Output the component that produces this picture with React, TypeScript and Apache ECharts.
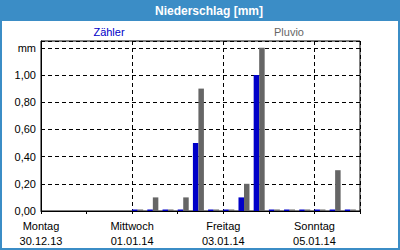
import React, { useEffect, useRef } from "react";
import * as echarts from "echarts";

const TITLE = "Niederschlag [mm]";
const SERIES_NAMES = ["Zähler", "Pluvio"];
const Y_UNIT = "mm";
// Day-boundary labels (every second day), at hours since Mon 30.12.13 00:00
const LABEL_HOURS = [0, 48, 96, 144];
const DAY_NAMES = ["Montag", "Mittwoch", "Freitag", "Sonntag"];
const DAY_DATES = ["30.12.13", "01.01.14", "03.01.14", "05.01.14"];
// 8-hour periods (start hour since Mon 30.12.13 00:00)
const PERIOD_HOURS = [48, 56, 64, 72, 80, 88, 96, 104, 112, 120, 128, 136, 144, 152, 160];
const ZAEHLER = [0, 0, 0, 0, 0.5, 0, 0, 0.1, 1.0, 0, 0, 0, 0, 0, 0];
const PLUVIO = [0, 0.1, 0, 0.1, 0.9, 0, 0, 0.2, 1.2, 0, 0, 0, 0, 0.3, 0];

const FONT = "'Liberation Sans', Arial, sans-serif";
const FRAME = "#3b8dc6";
const BLUE = "#0000c8";
const GRAY = "#666666";
const BAR_SHIFT_H = 2.9; // place the bar pair at the start of its period

export default function App() {
  const ref = useRef<HTMLDivElement>(null);
  useEffect(() => {
    if (!ref.current) return;
    const chart = echarts.init(ref.current, null, { renderer: "svg" });
    const dash = [4, 3];
    const labelFor = (v: number) => {
      const i = LABEL_HOURS.indexOf(Math.round(v));
      return i >= 0 ? DAY_NAMES[i] + "\n" + DAY_DATES[i] : "";
    };
    chart.setOption({
      animation: false,
      backgroundColor: "#ffffff",
      textStyle: { fontFamily: FONT },
      graphic: [
        { type: "rect", shape: { x: 0, y: 0, width: 400, height: 21 }, style: { fill: FRAME }, silent: true },
        { type: "rect", shape: { x: 1, y: 1, width: 398, height: 248 }, style: { fill: "none", stroke: FRAME, lineWidth: 2 }, silent: true },
        { type: "text", x: 209, y: 11, style: { text: TITLE, fill: "#ffffff", font: `bold 12px ${FONT}`, textAlign: "center", textVerticalAlign: "middle" } },
        { type: "text", x: 109, y: 32, style: { text: SERIES_NAMES[0], fill: BLUE, font: `11px ${FONT}`, textAlign: "center", textVerticalAlign: "middle" } },
        { type: "text", x: 289, y: 32, style: { text: SERIES_NAMES[1], fill: GRAY, font: `11px ${FONT}`, textAlign: "center", textVerticalAlign: "middle" } },
      ],
      grid: { left: 41, top: 41, width: 319, height: 170, show: true, borderColor: "#000", borderWidth: 1, backgroundColor: "transparent" },
      xAxis: [
        {
          type: "value", position: "bottom", min: 0, max: 168, interval: 24,
          axisLine: { show: true, lineStyle: { color: "#000", width: 1 } },
          axisTick: { show: true, length: 3, lineStyle: { color: "#000" } },
          axisLabel: { show: false },
          splitLine: { show: false },
        },
        {
          type: "value", position: "bottom", min: 0, max: 168, interval: 48,
          axisLine: { show: false },
          axisTick: { show: false },
          axisLabel: { show: true, formatter: labelFor, color: "#000", fontSize: 11, fontFamily: FONT, lineHeight: 15, margin: 7, showMaxLabel: false },
          splitLine: { show: true, lineStyle: { color: "#000", type: dash, width: 1 } },
        },
      ],
      yAxis: {
        type: "value", min: 0, max: 1.25, interval: 0.2,
        axisLine: { show: true, lineStyle: { color: "#000" } },
        axisTick: { show: false },
        axisLabel: {
          color: "#000", fontSize: 11, fontFamily: FONT, margin: 5,
          formatter: (v: number) => (Math.abs(v - 1.2) < 1e-6 ? Y_UNIT : v > 1.21 ? "" : v.toFixed(2).replace(".", ",")),
        },
        splitLine: { show: true, lineStyle: { color: "#000", type: dash, width: 1 } },
      },
      series: [
        {
          name: SERIES_NAMES[0], type: "bar", xAxisIndex: 0, barWidth: 5.5, barGap: "0%", barMinHeight: 1.5,
          itemStyle: { color: BLUE },
          data: PERIOD_HOURS.map((h, i) => [h + BAR_SHIFT_H, ZAEHLER[i]]),
        },
        {
          name: SERIES_NAMES[1], type: "bar", xAxisIndex: 0, barWidth: 5.5, barGap: "0%", barMinHeight: 1.5,
          itemStyle: { color: GRAY },
          data: PERIOD_HOURS.map((h, i) => [h + BAR_SHIFT_H, PLUVIO[i]]),
        },
      ],
    });
    return () => chart.dispose();
  }, []);
  return <div ref={ref} style={{ position: "fixed", left: 0, top: 0, width: 400, height: 250 }} />;
}
